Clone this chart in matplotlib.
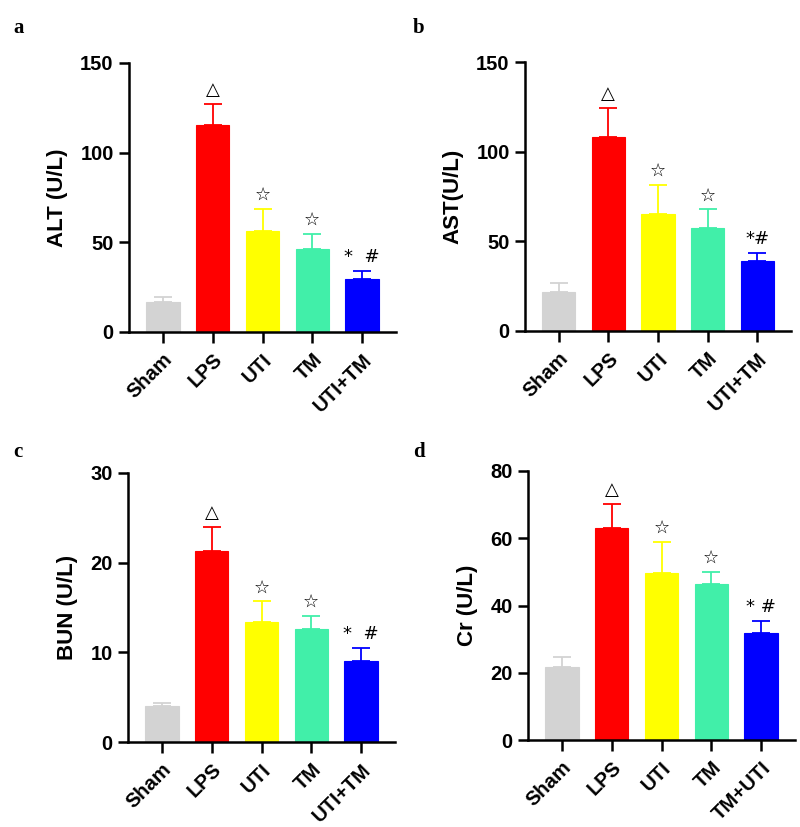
import matplotlib.pyplot as plt

plt.rcParams['font.family'] = ['Liberation Sans', 'DejaVu Sans']
plt.rcParams['font.weight'] = 'bold'

colors = ['#d3d3d3', '#ff0000', '#ffff00', '#41efa9', '#0000ff']

groups_a = ['Sham', 'LPS', 'UTI', 'TM', 'UTI+TM']
alt_mean = [16.7, 115.6, 56.3, 46.3, 29.7]
alt_err = [2.6, 11.4, 12.5, 8.4, 4.5]

groups_b = ['Sham', 'LPS', 'UTI', 'TM', 'UTI+TM']
ast_mean = [21.9, 107.9, 65.3, 57.2, 38.8]
ast_err = [4.7, 16.3, 16.2, 10.6, 4.7]

groups_c = ['Sham', 'LPS', 'UTI', 'TM', 'UTI+TM']
bun_mean = [4.0, 21.3, 13.4, 12.6, 9.0]
bun_err = [0.4, 2.7, 2.3, 1.5, 1.5]

groups_d = ['Sham', 'LPS', 'UTI', 'TM', 'TM+UTI']
cr_mean = [21.7, 63.1, 49.7, 46.4, 31.8]
cr_err = [3.0, 7.0, 9.2, 3.6, 3.5]

marks_a = ['', '\u25b3', '\u2606', '\u2606', '*  #']
marks_b = ['', '\u25b3', '\u2606', '\u2606', '*#']
marks_c = ['', '\u25b3', '\u2606', '\u2606', '*  #']
marks_d = ['', '\u25b3', '\u2606', '\u2606', '* #']

fig = plt.figure(figsize=(8, 8.27), dpi=100)
W, H = 800, 827


def add_axes(left, right, top, bottom):
    return fig.add_axes([left / W, 1 - bottom / H, (right - left) / W, (bottom - top) / H])


panels = [
    ('a', (129, 396, 63, 332), groups_a, alt_mean, alt_err, marks_a, 'ALT (U/L)', 150, 50, (13, 28)),
    ('b', (525, 791, 62, 331), groups_b, ast_mean, ast_err, marks_b, 'AST(U/L)', 150, 50, (413, 28)),
    ('c', (128, 395, 473, 742), groups_c, bun_mean, bun_err, marks_c, 'BUN (U/L)', 30, 10, (13, 452)),
    ('d', (528, 795, 471, 740), groups_d, cr_mean, cr_err, marks_d, 'Cr (U/L)', 80, 20, (413, 452)),
]

for letter, box, groups, mean, err, marks, ylabel, ymax, step, lpos in panels:
    ax = add_axes(*box)
    x = list(range(len(groups)))
    ax.bar(x, mean, width=0.67, color=colors, edgecolor=colors, linewidth=0.8, zorder=2)
    for xi, m, e, c in zip(x, mean, err, colors):
        ax.errorbar(xi, m, yerr=[[0], [e]], color=c, capsize=6.5, elinewidth=1.3,
                    capthick=1.3, zorder=1)
    for xi, m, e, t in zip(x, mean, err, marks):
        if t:
            ax.annotate(t, (xi, m + e), xytext=(0, 10), textcoords='offset points',
                        ha='center', va='center', fontsize=13, fontweight='normal',
                        family=['DejaVu Sans'])
    ax.set_xlim(-0.68, 4.68)
    ax.set_ylim(0, ymax)
    ax.set_yticks(range(0, ymax + 1, step))
    ax.set_xticks(x)
    ax.set_xticklabels(groups, rotation=45, ha='right', rotation_mode='anchor')
    ax.tick_params(axis='both', labelsize=14.5, width=1.8, length=7.5)
    ax.tick_params(axis='x', length=8, pad=5)
    for s in ['top', 'right']:
        ax.spines[s].set_visible(False)
    for s in ['left', 'bottom']:
        ax.spines[s].set_linewidth(1.8)
    ax.set_ylabel(ylabel, fontsize=16, fontweight='bold', labelpad=9)
    fig.text(lpos[0] / W, 1 - lpos[1] / H, letter, fontsize=15, fontweight='bold',
             family='Liberation Serif', ha='left', va='center')

fig.savefig('out.png', dpi=100)
